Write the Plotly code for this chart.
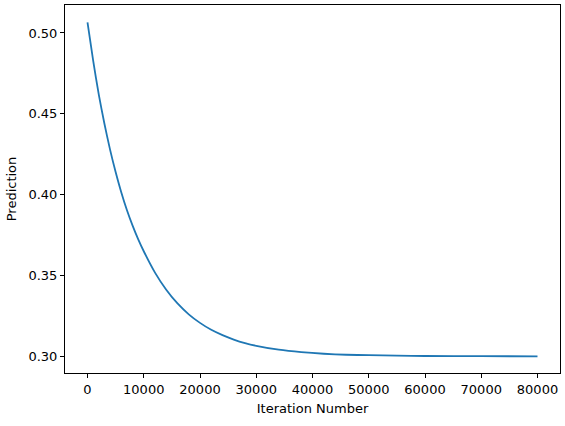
import plotly.graph_objects as go

iterations = [0, 1000, 2000, 3000, 4000, 5000, 6000, 7000, 8000, 9000, 10000, 12000, 14000, 16000,
              18000, 20000, 22000, 24000, 26000, 28000, 30000, 34000, 38000, 42000,
              46000, 50000, 55000, 60000, 70000, 80000]
prediction = [0.5065, 0.4830, 0.4620, 0.4440, 0.4280, 0.4140, 0.4015, 0.3905, 0.3810, 0.3725,
              0.3650, 0.3518, 0.3412, 0.3327, 0.3260, 0.3207, 0.3164, 0.3131, 0.3104,
              0.3082, 0.3065, 0.3041, 0.3026, 0.3016, 0.3010, 0.3007, 0.3004, 0.3002,
              0.3001, 0.3000]

x_ticks = [0, 10000, 20000, 30000, 40000, 50000, 60000, 70000, 80000]
y_ticks = [0.30, 0.35, 0.40, 0.45, 0.50]

fig = go.Figure()
fig.add_trace(go.Scatter(x=iterations, y=prediction, mode="lines",
                         line=dict(color="#1f77b4", width=1.8, shape="spline", smoothing=0.6)))

axis_common = dict(showline=True, linecolor="black", linewidth=1, mirror=True,
                   showgrid=False, zeroline=False, ticks="outside", ticklen=4,
                   tickcolor="black", tickwidth=1, automargin=False,
                   tickfont=dict(family="DejaVu Sans", size=13, color="black"))

fig.update_layout(
    width=565, height=426,
    margin=dict(l=65, r=5, t=5, b=53),
    paper_bgcolor="white", plot_bgcolor="white",
    showlegend=False,
    font=dict(family="DejaVu Sans", size=13, color="black"),
    xaxis=dict(range=[-4000, 84000], tickvals=x_ticks, ticktext=[str(v) for v in x_ticks],
               title=dict(text="Iteration Number", standoff=8,
                          font=dict(family="DejaVu Sans", size=13, color="black")),
               **axis_common),
    yaxis=dict(range=[0.2897, 0.5173], tickvals=y_ticks, ticktext=[f"{v:.2f}" for v in y_ticks],
               title=dict(text="Prediction", standoff=8,
                          font=dict(family="DejaVu Sans", size=13, color="black")),
               **axis_common),
)

fig.write_html("out.html", config={"displayModeBar": False},
               post_script="document.body.style.margin='0';document.body.style.overflow='hidden';")
